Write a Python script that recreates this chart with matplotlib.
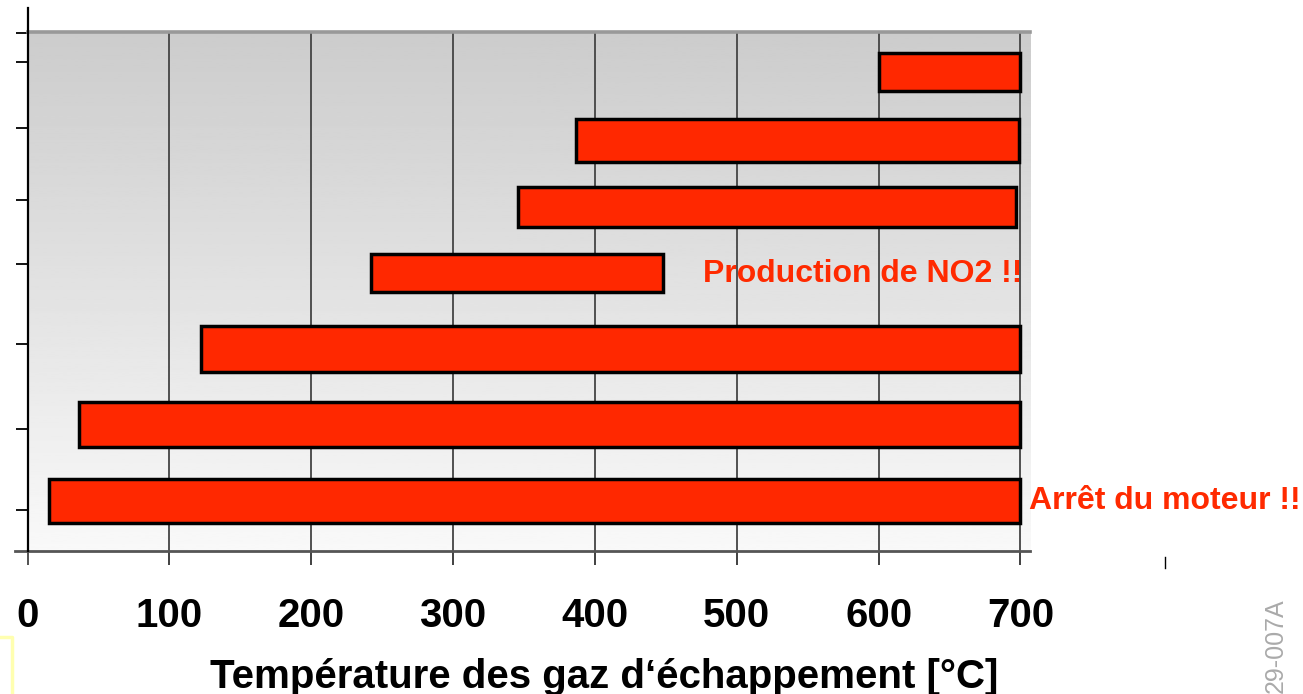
import numpy as np
import matplotlib
matplotlib.use("Agg")
import matplotlib.pyplot as plt
from matplotlib.lines import Line2D

plt.rcParams['font.family'] = ['Liberation Sans', 'DejaVu Sans']

# temperature windows (°C), bottom bar first
temp_start = [15, 36, 122, 242, 346, 387, 600]
temp_end = [700, 700, 700, 448, 697, 699, 700]
x_ticks = [0, 100, 200, 300, 400, 500, 600, 700]
x_label = "Température des gaz d‘échappement [°C]"
note_no2 = "Production de NO2 !!"
note_stop = "Arrêt du moteur !!"
ref_code = "29-007A"

# layout of the rows (vertical placement, not data)
bar_y = [5.05, 12.67, 20.2, 27.8, 34.4, 41.05, 47.9]
bar_h = [4.4, 4.5, 4.6, 3.8, 4.0, 4.3, 3.74]
left_ticks = [4.1, 12.2, 20.7, 28.7, 35.1, 42.3, 48.9, 51.8]

W, H = 1303, 694
fig = plt.figure(figsize=(W / 100, H / 100), dpi=100)
ax = fig.add_axes([27.5 / W, (H - 551) / H, (1030 - 27.5) / W, (551 - 32) / H])

XMAX, YMAX = 706.7, 51.9

# gray gradient background
grad = np.linspace(0.80, 0.975, 256).reshape(-1, 1)
ax.imshow(grad, extent=[0, XMAX, 0, YMAX], aspect='auto', cmap='gray',
          vmin=0, vmax=1, zorder=0)

# vertical grid lines (extend a little below the axis like ticks)
ax.vlines(x_ticks[1:], -1.4, YMAX, colors='#444444', linewidth=1.3,
          zorder=2, clip_on=False)

ax.barh(bar_y, np.array(temp_end) - np.array(temp_start), left=temp_start,
        height=bar_h, color='#ff2800', edgecolor='black', linewidth=2.5,
        zorder=3)

ax.text(476, 26.9, note_no2, color='#ff2a00', fontsize=23, fontweight='bold',
        ha='left', va='baseline', zorder=1.5)

ax.set_xlim(0, XMAX)
ax.set_ylim(0, YMAX)
for s in ax.spines.values():
    s.set_visible(False)

# frame lines
ax.plot([0, XMAX], [YMAX, YMAX], color='#999999', lw=2.6, clip_on=False, zorder=4)
ax.plot([-9, XMAX], [0, 0], color='#555555', lw=2, clip_on=False, zorder=4)
ax.plot([0, 0], [0, YMAX + 2.4], color='black', lw=1.6, clip_on=False, zorder=4)

ax.set_xticks(x_ticks)
ax.set_xticklabels([str(t) for t in x_ticks], fontsize=29, fontweight='bold')
ax.tick_params(axis='x', direction='out', length=10, width=1.3,
               color='#444444', pad=23)
ax.set_yticks(left_ticks)
ax.set_yticklabels([])
ax.tick_params(axis='y', direction='out', length=9, width=1.3, color='black')

fig.text(604 / W, (H - 688) / H, x_label, fontsize=29, fontweight='bold',
         ha='center', va='baseline')
fig.text(1029 / W, (H - 509) / H, note_stop, color='#ff2a00', fontsize=23,
         fontweight='bold', ha='left', va='baseline')
fig.text(1276 / W, (H - 598) / H, ref_code, color='#aaaaaa', fontsize=18,
         rotation=90, ha='center', va='top')

# stray mark and yellow frame remnant
fig.add_artist(Line2D([1165 / W, 1165 / W], [(H - 557) / H, (H - 568) / H],
                      color='black', lw=1))
fig.add_artist(Line2D([0, 12 / W, 12 / W], [(H - 637) / H, (H - 637) / H, 0],
                      color='#ffffb0', lw=2.5))

fig.savefig('out.png', dpi=100)
